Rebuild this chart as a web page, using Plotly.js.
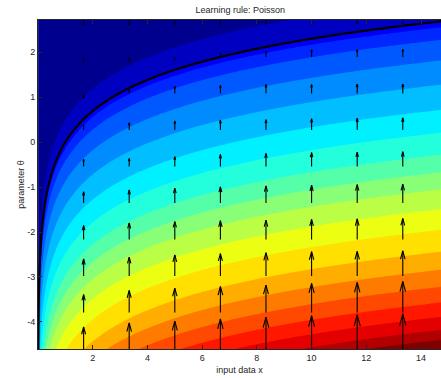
<!DOCTYPE html>
<html><head><meta charset="utf-8">
<script src="https://cdn.plot.ly/plotly-3.0.1.min.js"></script>
<style>html,body{margin:0;padding:0;background:#fff}</style>
</head><body><div id="chart" style="width:441px;height:378px"></div>
<script>
// ---- data ----
const chartTitle = 'Learning rule: Poisson';
const xLabel = 'input data x';
const yLabel = 'parameter θ';
const xRange = [0, 14.73];
const thetaRange = [-4.605, 2.72];
const xTickVals = [2, 4, 6, 8, 10, 12, 14];
const xTickText = ['2', '4', '6', '8', '10', '12', '14'];
const yTickVals = [-4, -3, -2, -1, 0, 1, 2];
const yTickText = ['-4', '-3', '-2', '-1', '0', '1', '2'];

// contour levels of the colour field, read as (log x - θ) at each band boundary
const levelU = [-0.5, 0, 0.13, 0.41, 0.87, 1.41, 1.97, 2.48, 2.97, 3.36, 3.74, 4.18,
                4.64, 5.13, 5.53, 5.91, 6.26, 6.58, 6.87, 7.09];

// quiver: arrow bases and vertical update Δθ (θ units), rows = arrowTheta, cols = arrowX
const arrowX = [1.667, 3.333, 5.0, 6.667, 8.333, 10.0, 11.667, 13.333];
const arrowTheta = [-4.605, -3.792, -2.980, -2.167, -1.355, -0.542, 0.271, 1.083, 1.896, 2.708];
const arrowDTheta = [
  [0.49, 0.58, 0.62, 0.67, 0.71, 0.74, 0.76, 0.78],
  [0.40, 0.49, 0.54, 0.58, 0.61, 0.65, 0.67, 0.69],
  [0.38, 0.42, 0.47, 0.50, 0.52, 0.54, 0.55, 0.56],
  [0.31, 0.37, 0.40, 0.42, 0.43, 0.45, 0.46, 0.47],
  [0.25, 0.29, 0.33, 0.36, 0.38, 0.40, 0.41, 0.42],
  [0.16, 0.18, 0.22, 0.27, 0.29, 0.31, 0.32, 0.33],
  [0.12, 0.16, 0.20, 0.22, 0.23, 0.25, 0.26, 0.27],
  [-0.11, 0.09, 0.16, 0.18, 0.20, 0.20, 0.21, 0.21],
  [-0.11, -0.09, -0.07, 0.09, 0.13, 0.16, 0.16, 0.17],
  [-0.11, -0.10, -0.09, -0.09, -0.08, -0.08, -0.07, -0.07]
];

// ---- field sampling ----
const gx = [];
for (let i = 0; i <= 60; i++) gx.push(0.004 * Math.pow(1.5 / 0.004, i / 60));
for (let i = 1; i <= 160; i++) gx.push(1.5 + (xRange[1] + 0.05 - 1.5) * i / 160);
const gy = [];
for (let j = 0; j <= 260; j++) gy.push(thetaRange[0] - 0.02 + (thetaRange[1] - thetaRange[0] + 0.04) * j / 260);

function bandIndex(u) {
  const L = levelU, n = L.length;
  if (u <= L[0]) return (u - L[0]) / (L[1] - L[0]);
  if (u >= L[n - 1]) return (n - 1) + (u - L[n - 1]) / (L[n - 1] - L[n - 2]);
  for (let i = 0; i < n - 1; i++) {
    if (u < L[i + 1]) return i + (u - L[i]) / (L[i + 1] - L[i]);
  }
  return n - 1;
}
const zU = gy.map(t => gx.map(x => Math.log(x) - t));
const zBand = zU.map(r => r.map(bandIndex));

const jet = [[0, 'rgb(0,0,143)'], [0.111, 'rgb(0,0,255)'], [0.365, 'rgb(0,255,255)'],
             [0.619, 'rgb(255,255,0)'], [0.873, 'rgb(255,0,0)'], [1, 'rgb(128,0,0)']];

// quiver shafts and V heads (head = 0.33 of arrow length, as in a default quiver)
const plotW = 441 - 38, plotH = 378 - 20 - 29;
const xPerPx = (xRange[1] - xRange[0]) / plotW;
const thetaPerPx = (thetaRange[1] - thetaRange[0]) / plotH;
const sx = [], sy = [], hx = [], hy = [];
arrowTheta.forEach((t, i) => {
  arrowX.forEach((x, j) => {
    const d = arrowDTheta[i][j];
    const tip = t + d;
    sx.push(x, x, null); sy.push(t, tip, null);
    const hl = 0.33 * d;
    const hw = 0.09 * (Math.abs(d) / thetaPerPx) * xPerPx;
    hx.push(x - hw, x, x + hw, null);
    hy.push(tip - hl, tip, tip - hl, null);
  });
});

const traces = [
  {
    type: 'contour', x: gx, y: gy, z: zBand,
    colorscale: jet, showscale: false, hoverinfo: 'skip',
    contours: {start: 0, end: levelU.length - 1, size: 1, coloring: 'fill', showlines: false},
    line: {width: 0, smoothing: 0}
  },
  {
    type: 'contour', x: gx, y: gy, z: zU,
    showscale: false, hoverinfo: 'skip',
    contours: {start: 0, end: 0, size: 1, coloring: 'none'},
    line: {color: 'black', width: 2.2, smoothing: 0}
  },
  {type: 'scatter', mode: 'lines', x: sx, y: sy, hoverinfo: 'skip', cliponaxis: true,
   line: {color: '#000', width: 1.1}},
  {type: 'scatter', mode: 'lines', x: hx, y: hy, hoverinfo: 'skip', cliponaxis: true,
   line: {color: '#000', width: 1.1}}
];

const fontFam = '"Liberation Sans", Arial, Helvetica, sans-serif';
const layout = {
  width: 441, height: 378,
  margin: {l: 38, r: 0, t: 20, b: 29, pad: 0},
  paper_bgcolor: '#fff', plot_bgcolor: '#fff',
  font: {family: fontFam, size: 9, color: '#262626'},
  showlegend: false,
  title: {text: chartTitle, x: 0.545, xanchor: 'center', y: 0.974, yanchor: 'middle',
          font: {family: fontFam, size: 9, color: '#262626'}},
  xaxis: {
    range: xRange, tickvals: xTickVals, ticktext: xTickText,
    ticks: 'inside', ticklen: 4, tickcolor: '#262626', tickwidth: 1,
    showline: true, linecolor: '#262626', linewidth: 1, mirror: 'ticks',
    showgrid: false, zeroline: false,
    tickfont: {family: fontFam, size: 9, color: '#262626'},
    title: {text: xLabel, font: {family: fontFam, size: 9, color: '#262626'}, standoff: 4}
  },
  yaxis: {
    range: thetaRange, tickvals: yTickVals, ticktext: yTickText,
    ticks: 'inside', ticklen: 4, tickcolor: '#262626', tickwidth: 1,
    showline: true, linecolor: '#262626', linewidth: 1, mirror: false,
    showgrid: false, zeroline: false,
    tickfont: {family: fontFam, size: 9, color: '#262626'},
    title: {text: yLabel, font: {family: fontFam, size: 9, color: '#262626'}, standoff: 1}
  }
};

Plotly.newPlot('chart', traces, layout, {staticPlot: true, displayModeBar: false});
</script>
</body></html>
